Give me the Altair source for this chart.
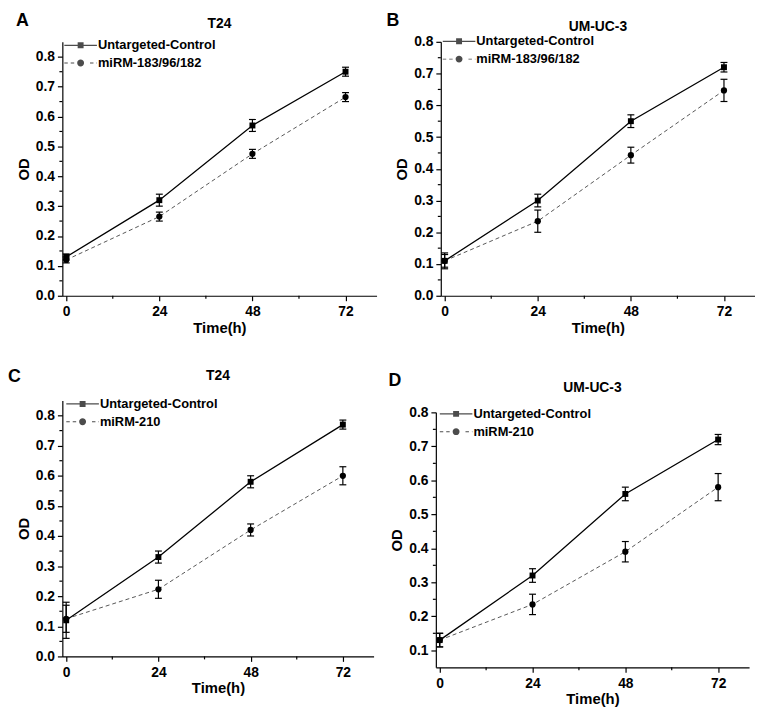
import altair as alt
import pandas as pd

FONT = "Liberation Sans"

time_h = [0, 24, 48, 72]
control_name = "Untargeted-Control"
mir_name_top = "miRM-183/96/182"
mir_name_bottom = "miRM-210"

# Panel A (T24)
a_ctrl = [0.13, 0.32, 0.57, 0.75]
a_ctrl_err = [0.01, 0.02, 0.02, 0.015]
a_mir = [0.12, 0.265, 0.475, 0.665]
a_mir_err = [0.01, 0.015, 0.015, 0.015]
# Panel B (UM-UC-3)
b_ctrl = [0.11, 0.30, 0.55, 0.72]
b_ctrl_err = [0.02, 0.02, 0.02, 0.015]
b_mir = [0.11, 0.235, 0.443, 0.647]
b_mir_err = [0.025, 0.035, 0.025, 0.035]
# Panel C (T24)
c_ctrl = [0.12, 0.33, 0.58, 0.77]
c_ctrl_err = [0.06, 0.02, 0.02, 0.015]
c_mir = [0.125, 0.223, 0.42, 0.60]
c_mir_err = [0.045, 0.03, 0.02, 0.03]
# Panel D (UM-UC-3)
d_ctrl = [0.13, 0.32, 0.56, 0.72]
d_ctrl_err = [0.02, 0.02, 0.02, 0.015]
d_mir = [0.13, 0.235, 0.39, 0.58]
d_mir_err = [0.02, 0.03, 0.03, 0.04]

x_ticks = [0, 24, 48, 72]
x_minor = [12, 36, 60]
y_ticks_full = [0.0, 0.1, 0.2, 0.3, 0.4, 0.5, 0.6, 0.7, 0.8]
y_ticks_d = [0.1, 0.2, 0.3, 0.4, 0.5, 0.6, 0.7, 0.8]
y_minor_full = [0.05, 0.15, 0.25, 0.35, 0.45, 0.55, 0.65, 0.75]
y_minor_d = [0.15, 0.25, 0.35, 0.45, 0.55, 0.65, 0.75]


# legend symbol paths (filled shapes only; unit = 5px for symbolSize 100)
def rect(x0, x1, hh):
    return f"M{x0:.2f},{-hh:.2f}H{x1:.2f}V{hh:.2f}H{x0:.2f}Z"


LT = 0.13  # half line thickness
SQ_PATH = rect(-3.3, -0.6, LT) + rect(0.6, 3.3, LT) + "M-0.6,-0.6H0.6V0.6H-0.6Z"
_dash = []
s = -3.3
while s < 3.3:
    e = min(s + 0.7, 3.3)
    if e < -0.75 or s > 0.75:
        _dash.append(rect(s, e, LT * 0.8))
    s += 1.3
CI_PATH = "".join(_dash) + "M0.7,0A0.7,0.7,0,1,1,-0.7,0A0.7,0.7,0,1,1,0.7,0Z"


def panel(letter, title, mir_name, ctrl, ctrl_err, mir, mir_err, ydom, yticks,
          yminor, w, h, letter_x, letter_y, title_y, leg_x, leg_y, top_pad=0):
    names = [control_name, mir_name]
    rows = []
    for name, vals, errs in ((control_name, ctrl, ctrl_err), (mir_name, mir, mir_err)):
        for t, v, e in zip(time_h, vals, errs):
            rows.append(dict(series=name, time=t, od=v, lo=v - e, hi=v + e))
    df = pd.DataFrame(rows)
    ctrl_df = df[df.series == control_name]
    mir_df = df[df.series == mir_name]

    H = h + top_pad
    xs = alt.Scale(domain=[-1, 80], nice=False, zero=False)
    if top_pad:
        ys = alt.Scale(domain=ydom, nice=False, zero=False, range=[H, top_pad])
    else:
        ys = alt.Scale(domain=ydom, nice=False, zero=False)
    xax = alt.Axis(values=x_ticks, title="Time(h)", format="d")
    yax = alt.Axis(values=yticks, title="OD", format=".1f")

    def X(f):
        return alt.X(f, type="quantitative", scale=xs, axis=xax)

    def Y(f):
        return alt.Y(f, type="quantitative", scale=ys, axis=yax)

    layers = []
    layers.append(alt.Chart(mir_df).mark_line(color="#555555", strokeWidth=1,
                                              strokeDash=[4, 3]).encode(x=X("time"), y=Y("od")))
    layers.append(alt.Chart(ctrl_df).mark_line(color="black", strokeWidth=1.3)
                  .encode(x=X("time"), y=Y("od")))
    for d in (ctrl_df, mir_df):
        layers.append(alt.Chart(d).mark_rule(color="black", strokeWidth=1.2)
                      .encode(x=X("time"), y=Y("lo"), y2="hi"))
        for f in ("lo", "hi"):
            layers.append(alt.Chart(d).mark_tick(orient="horizontal", size=7, thickness=1.2,
                                                 color="black", opacity=1)
                          .encode(x=X("time"), y=Y(f)))
    layers.append(alt.Chart(ctrl_df).mark_point(shape="square", filled=True, size=36,
                                                color="black", opacity=1)
                  .encode(x=X("time"), y=Y("od")))
    layers.append(alt.Chart(mir_df).mark_point(shape="circle", filled=True, size=40,
                                               color="black", opacity=1)
                  .encode(x=X("time"), y=Y("od")))
    # minor ticks
    layers.append(alt.Chart(pd.DataFrame({"m": x_minor})).mark_rule(color="black", strokeWidth=1.2)
                  .encode(x=X("m"), y=alt.value(H), y2=alt.value(H + 3)))
    layers.append(alt.Chart(pd.DataFrame({"m": yminor})).mark_rule(color="black", strokeWidth=1.2)
                  .encode(y=Y("m"), x=alt.value(0), x2=alt.value(-3)))
    # legend layer (hidden marks, visible legend)
    leg = alt.Legend(title=None, orient="none", legendX=leg_x, legendY=leg_y + top_pad, padding=0,
                     symbolSize=100, labelFont=FONT, labelFontSize=13,
                     labelFontWeight="bold", labelColor="black", labelOffset=11,
                     symbolOffset=5, symbolStrokeWidth=0, symbolFillColor="black",
                     rowPadding=4, labelLimit=300)
    layers.append(alt.Chart(df).mark_point(filled=True, color="black", strokeWidth=0,
                                           clip=True, yOffset=5000)
                  .encode(x=X("time"), y=Y("od"),
                          shape=alt.Shape("series:N", scale=alt.Scale(domain=names, range=[SQ_PATH, CI_PATH]), legend=leg)))
    layers.append(alt.Chart(pd.DataFrame({"t": [letter]})).mark_text(
        align="left", baseline="top", fontSize=18, fontWeight="bold", font=FONT, color="black")
        .encode(text="t:N", x=alt.value(letter_x), y=alt.value(letter_y + top_pad)))
    layers.append(alt.Chart(pd.DataFrame({"t": [title]})).mark_text(
        align="center", baseline="middle", fontSize=14, fontWeight="bold", font=FONT, color="black")
        .encode(text="t:N", x=alt.value(w / 2), y=alt.value(title_y + top_pad)))

    return alt.layer(*layers).properties(width=w, height=H)


pA = panel("A", "T24", mir_name_top, a_ctrl, a_ctrl_err, a_mir, a_mir_err,
           [0, 0.85], y_ticks_full, y_minor_full, 318, 257, -47, -30, -18, 7, -3)
pB = panel("B", "UM-UC-3", mir_name_top, b_ctrl, b_ctrl_err, b_mir, b_mir_err,
           [0, 0.8], y_ticks_full, y_minor_full, 318, 257, -55, -30, -15, 7, -7)
pC = panel("C", "T24", mir_name_bottom, c_ctrl, c_ctrl_err, c_mir, c_mir_err,
           [0, 0.85], y_ticks_full, y_minor_full, 315, 259, -55, -33, -25, 9, -3)
pD = panel("D", "UM-UC-3", mir_name_bottom, d_ctrl, d_ctrl_err, d_mir, d_mir_err,
           [0.05, 0.8], y_ticks_d, y_minor_d, 317, 258, -48, -41, -25, 9, -5, top_pad=12)

row1 = alt.hconcat(pA, pB, spacing=10).resolve_scale(shape="independent").resolve_legend(shape="independent")
row2 = alt.hconcat(pC, pD, spacing=15).resolve_scale(shape="independent").resolve_legend(shape="independent")

chart = alt.vconcat(row1, row2, spacing=33).resolve_scale(
    shape="independent").resolve_legend(shape="independent").properties(
    padding={"left": 0, "top": 0, "right": 0, "bottom": 0}
).configure_view(stroke=None).configure_axis(
    domainColor="black", domainWidth=1.2, tickColor="black", tickWidth=1.2, tickSize=5,
    labelFont=FONT, labelFontSize=14, labelFontWeight="bold", labelColor="black",
    titleFont=FONT, titleFontSize=15, titleFontWeight="bold", titleColor="black",
    grid=False, labelPadding=3, titlePadding=4
).configure_axisX(titlePadding=2, labelPadding=4)

chart.save("out.html", embed_options={"renderer": "svg", "actions": False})
